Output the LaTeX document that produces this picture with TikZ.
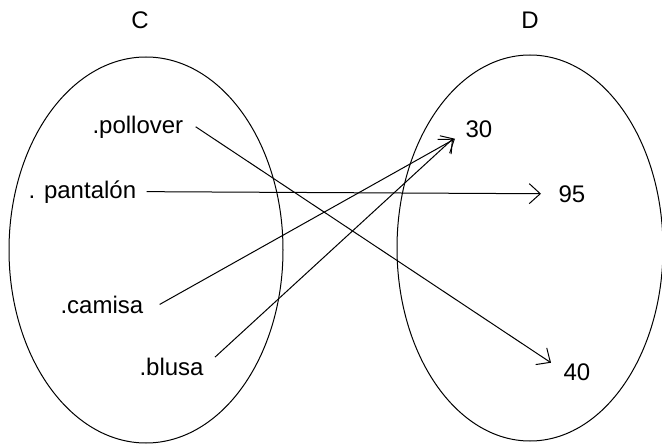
\documentclass[tikz,border=0pt]{standalone}
\usepackage{fontspec}
\setmainfont{Liberation Sans}
\usetikzlibrary{positioning,shapes.geometric,arrows.meta}

\begin{document}
\begin{tikzpicture}[x=1pt, y=-1pt, line width=1pt, every node/.style={font=\fontsize{24}{28}\selectfont, inner sep=0pt}]
\tikzstyle{conj}=[draw, ellipse, minimum width=274pt, minimum height=386pt]
\tikzstyle{elem}=[anchor=base west]
\tikzstyle{flecha}=[-{Straight Barb[length=11pt,width=20pt]}]
\useasboundingbox (0,0) rectangle (662,444);
% conjuntos
\node[conj] (setC) at (146,250) {};
\node[conj, minimum width=266pt] (setD) at (530,248) {};
\node[above=27pt of setC, xshift=-6pt] (lblC) {C};
\node[above=25pt of setD] (lblD) {D};
% elementos de C
\node[elem] (pollover) at (92,133) {.pollover};
\node[elem] (pantalon) at (28,198) {. pantalón};
\node[elem] (camisa) at (60,313) {.camisa};
\node[elem] (blusa) at (139,375) {.blusa};
% elementos de D
\node[elem] (n30) at (465,138) {30};
\node[elem] (n95) at (558,202) {95};
\node[elem] (n40) at (563,380) {40};
% correspondencia
\draw[flecha] ([xshift=12pt]pollover.east) -- ([xshift=-12pt]n40.north west);
\draw[flecha] ([xshift=10pt]pantalon.east) -- ([xshift=-17pt]n95.west);
\draw[flecha] ([xshift=16pt]camisa.east) -- ([xshift=-10pt]n30.south west);
\draw[flecha] ([xshift=11pt]blusa.north east) -- ([xshift=-12pt]n30.south west);
\end{tikzpicture}
\end{document}
